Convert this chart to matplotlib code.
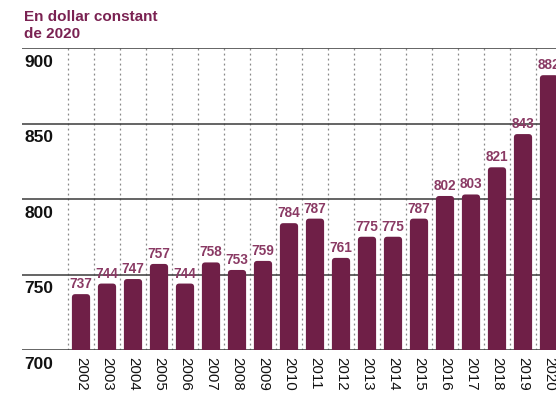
import matplotlib.pyplot as plt
from matplotlib.patches import FancyBboxPatch
import matplotlib.transforms as mtransforms

years = ['2002', '2003', '2004', '2005', '2006', '2007', '2008', '2009', '2010',
         '2011', '2012', '2013', '2014', '2015', '2016', '2017', '2018', '2019', '2020']
values = [737, 744, 747, 757, 744, 758, 753, 759, 784,
          787, 761, 775, 775, 787, 802, 803, 821, 843, 882]
yticks = [700, 750, 800, 850, 900]

bar_color = '#6f1f47'
label_color = '#8a3a64'
title_color = '#7a2252'

plt.rcParams['font.family'] = ['Liberation Sans', 'DejaVu Sans']

fig = plt.figure(figsize=(5.56, 3.94), dpi=100)
ax = fig.add_axes([22 / 556, 1 - 350 / 394, 534 / 556, 302 / 394])
ax.set_xlim(-59 / 26, 475 / 26)
ax.set_ylim(700, 900)
ax.axis('off')

# dotted separators between the bars
for i in range(len(years)):
    ax.plot([i - 0.5, i - 0.5], [700, 900], color='#888888', lw=0.9,
            ls=(0, (1.5, 2.5)), zorder=1)

# horizontal reference lines with labels underneath
trans = mtransforms.blended_transform_factory(ax.transAxes, ax.transData)
for v in yticks:
    ax.axhline(v, color='#3a3a3a', lw=1.1, zorder=2)
    ax.text(0.004, v - 4.5, str(v), transform=trans,
            ha='left', va='top', fontsize=12.5, color='#111111', fontweight='bold')

# bars with rounded tops; bottom corners hidden below the axis
w = 0.7
px_x = 26.0
px_y = 302 / 200
for i, v in enumerate(values):
    p = FancyBboxPatch((i - w / 2, 690), w, v - 690,
                       boxstyle='round,pad=0,rounding_size=0.13',
                       mutation_aspect=px_x / px_y,
                       facecolor=bar_color, edgecolor='none', zorder=3)
    ax.add_patch(p)
    ax.text(i, v + 2, str(v), ha='center', va='bottom', fontsize=9.8,
            fontweight='bold', color=label_color, zorder=4, clip_on=False)

for i, y in enumerate(years):
    ax.text(i, 695.5, y, ha='center', va='top', rotation=-90, fontsize=10.8,
            color='#111111', clip_on=False)

fig.text(24 / 556, 1 - 21 / 394, 'En dollar constant', fontsize=11, fontweight='bold',
         color=title_color, ha='left', va='baseline')
fig.text(24 / 556, 1 - 38 / 394, 'de 2020', fontsize=11, fontweight='bold',
         color=title_color, ha='left', va='baseline')

fig.savefig('out.png', dpi=100)
